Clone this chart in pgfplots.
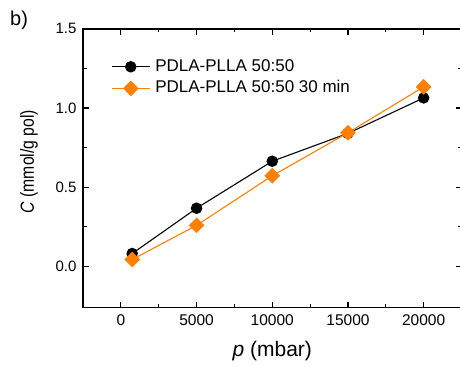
\documentclass[border=0pt]{standalone}
\usepackage{pgfplots}
\pgfplotsset{compat=1.18}
\usepackage{fontspec}
\setmainfont{Liberation Sans}
\definecolor{myorange}{RGB}{255,128,0}
\begin{document}
\begin{tikzpicture}
\begin{axis}[
  at={(0pt,0pt)}, anchor=south west,
  scale only axis,
  width=378.5pt, height=278.6pt,
  xmin=-2500, xmax=22500,
  ymin=-0.26, ymax=1.5,
  xtick={0,5000,10000,15000,20000},
  ytick={0,0.5,1,1.5},
  minor x tick num=1, minor y tick num=1,
  tick align=inside,
  major tick length=6pt, minor tick length=3.5pt,
  every tick/.style={black, line width=1.2pt},
  axis line style={line width=1.5pt},
  scaled x ticks=false,
  /pgf/number format/assume math mode=true,
  /pgf/number format/1000 sep={},
  xticklabel style={font=\fontsize{15.5}{18}\selectfont, yshift=-3.5pt},
  yticklabel style={font=\fontsize{15}{18}\selectfont, xshift=-3pt,
    /pgf/number format/fixed, /pgf/number format/fixed zerofill, /pgf/number format/precision=1},
  xlabel={\textit{p} (mbar)},
  xlabel style={at={(rel axis cs:0.5,0)}, anchor=center, yshift=-44pt, font=\fontsize{21}{25}\selectfont},
  ylabel={\scalebox{0.83}[1]{\textit{C} (mmol/g pol)}},
  ylabel style={at={(rel axis cs:-0.1427,0.524)}, anchor=center, font=\fontsize{19}{23}\selectfont},
  legend style={draw=none, fill=none, at={(rel axis cs:0.074,0.897)}, anchor=north west,
    font=\fontsize{17}{20}\selectfont, row sep=3.6pt, column sep=4pt, inner sep=0pt,
    nodes={inner sep=1pt, text height=12.5pt, text depth=3.5pt}},
  legend cell align=left,
  legend image code/.code={\draw[mark repeat=2, mark phase=2, #1] plot coordinates {(0pt,0pt) (19pt,0pt) (38pt,0pt)};},
]
\addplot[black, line width=1.1pt, mark=*, mark size=5.2pt, mark options={solid, fill=black}]
  coordinates {(750,0.081) (5000,0.367) (10000,0.664) (15000,0.840) (20000,1.064)};
\addlegendentry{PDLA-PLLA 50:50}
\addplot[myorange, line width=1.1pt, mark=square*, mark size=5pt, mark options={solid, fill=myorange, rotate=45}]
  coordinates {(750,0.043) (5000,0.259) (10000,0.572) (15000,0.844) (20000,1.134)};
\addlegendentry{PDLA-PLLA 50:50 30 min}
\end{axis}
\node[anchor=base west, font=\fontsize{20}{24}\selectfont, inner sep=0pt] at (-73pt,282.5pt) {b)};
\pgfresetboundingbox
\path[use as bounding box] (-83pt,-57.5pt) rectangle (377pt,307.5pt);
\end{tikzpicture}
\end{document}
